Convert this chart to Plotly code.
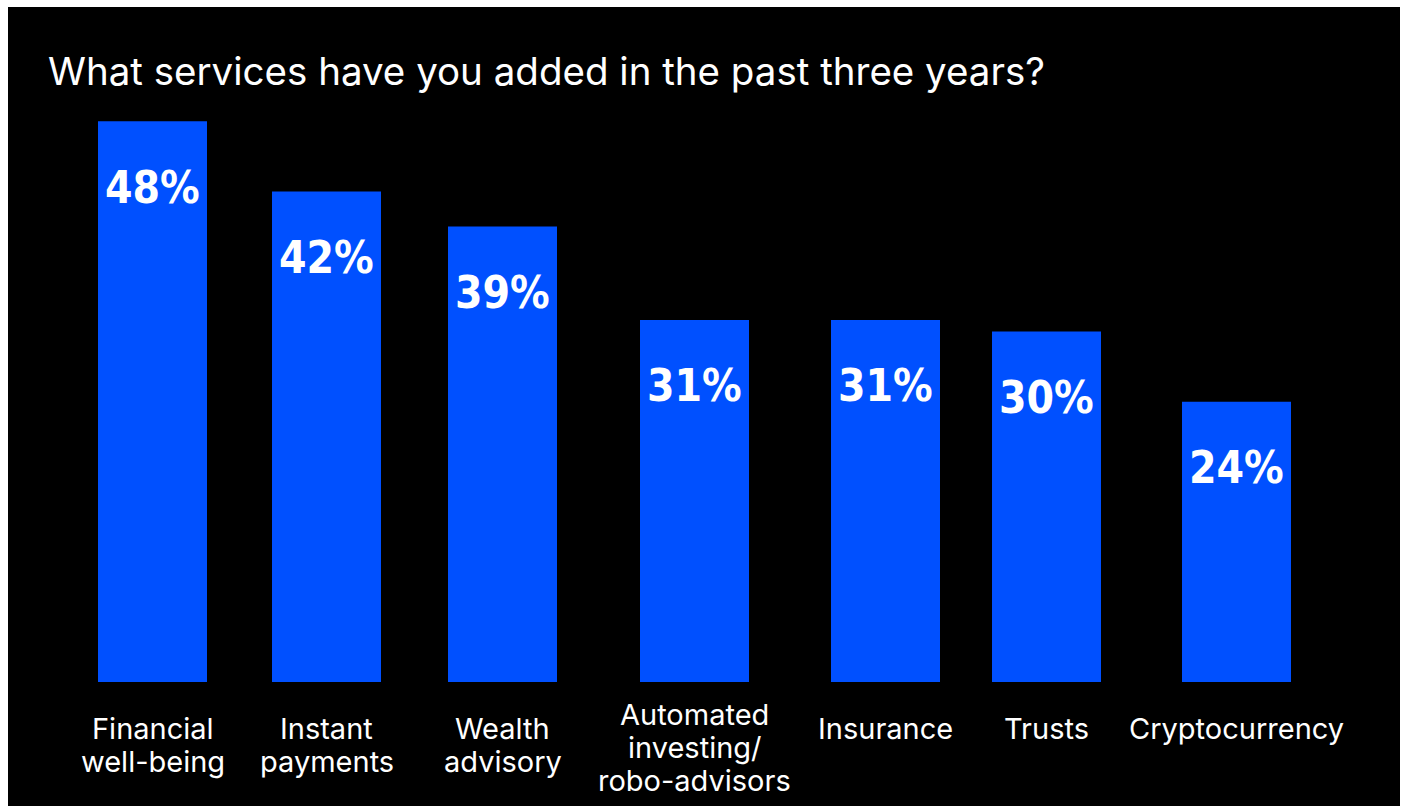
import plotly.graph_objects as go

# Survey results: share of respondents adding each service in the past three years
services = [
    "Financial<br>well-being",
    "Instant<br>payments",
    "Wealth<br>advisory",
    "Automated<br>investing/<br>robo-advisors",
    "Insurance",
    "Trusts",
    "Cryptocurrency",
]
shares = [48, 42, 39, 31, 31, 30, 24]

title_text = "What services have you added in the past three years?"

# Layout: horizontal slot centres for each bar (in pixel units of the page width)
W, H = 1404, 806
slot_x = [152.5, 326.5, 502.5, 694.5, 885.5, 1046.5, 1236.5]
bar_w = 109

BLUE = "#0050FF"
M_TOP, M_BOT = 98, 124
Y_MAX = 50

fig = go.Figure()
fig.add_trace(
    go.Bar(
        x=slot_x,
        y=shares,
        width=bar_w,
        marker=dict(color=BLUE, line=dict(width=0)),
        hoverinfo="skip",
    )
)

# Value labels inside the bars
for xv, v in zip(slot_x, shares):
    fig.add_annotation(
        x=xv, y=v, xref="x", yref="y",
        text=f"{v}%", showarrow=False,
        yanchor="middle", yshift=-66,
        font=dict(family="DejaVu Sans Condensed", size=44, color="white",
                  weight="bold"),
    )

# Category labels beneath the bars, one annotation per text line
line_h = 33
first_line = 46  # distance below the baseline of the first line's centre
for xv, lab in zip(slot_x, services):
    lines = lab.split("<br>")
    start = first_line + max(0, len(lines) - 2) * -14
    for i, ln in enumerate(lines):
        fig.add_annotation(
            x=xv, y=0, xref="x", yref="y",
            text=ln, showarrow=False,
            yanchor="middle", yshift=-(start + i * line_h),
            font=dict(family="Inter", size=29, color="white"),
        )

plot_h = H - M_TOP - M_BOT

def py(p):
    return (H - M_BOT - p) / plot_h

# Black panel behind the chart
fig.add_shape(
    type="rect", xref="paper", yref="paper",
    x0=8 / W, x1=1400 / W, y0=py(806), y1=py(7),
    fillcolor="black", line=dict(width=0), layer="below",
)

fig.update_layout(
    width=W, height=H,
    paper_bgcolor="white",
    plot_bgcolor="rgba(0,0,0,0)",
    margin=dict(l=0, r=0, t=M_TOP, b=M_BOT),
    showlegend=False,
    title=dict(
        text=title_text,
        x=48 / W, xanchor="left", xref="paper",
        y=1 - 72 / H, yanchor="middle", yref="container",
        font=dict(family="Inter", size=38.5, color="white"),
    ),
    xaxis=dict(range=[0, W], visible=False, fixedrange=True),
    yaxis=dict(range=[0, Y_MAX], visible=False, fixedrange=True),
)

fig.write_html("out.html")
